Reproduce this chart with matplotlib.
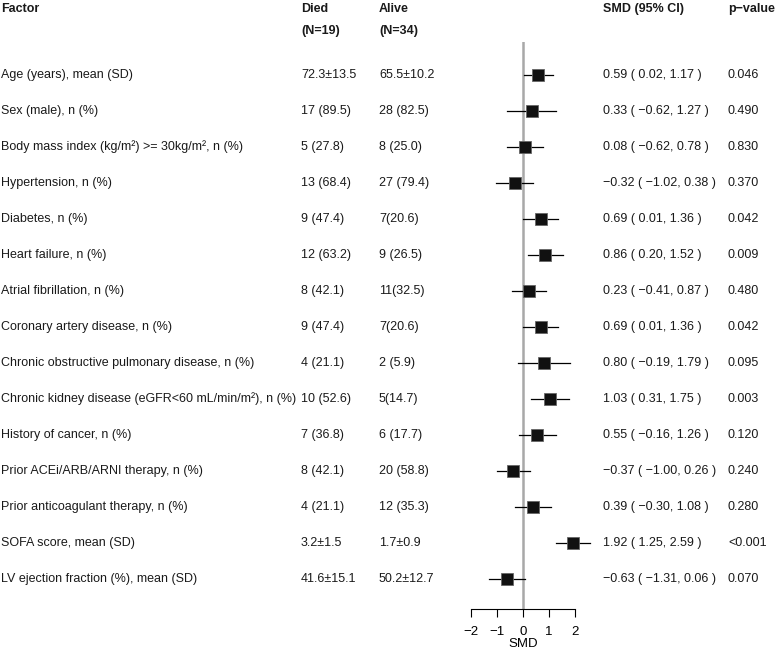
import matplotlib.pyplot as plt
from matplotlib.transforms import blended_transform_factory

plt.rcParams['font.family'] = ['Liberation Sans', 'DejaVu Sans']

factors = [
    "Age (years), mean (SD)",
    "Sex (male), n (%)",
    "Body mass index (kg/m²) >= 30kg/m², n (%)",
    "Hypertension, n (%)",
    "Diabetes, n (%)",
    "Heart failure, n (%)",
    "Atrial fibrillation, n (%)",
    "Coronary artery disease, n (%)",
    "Chronic obstructive pulmonary disease, n (%)",
    "Chronic kidney disease (eGFR<60 mL/min/m²), n (%)",
    "History of cancer, n (%)",
    "Prior ACEi/ARB/ARNI therapy, n (%)",
    "Prior anticoagulant therapy, n (%)",
    "SOFA score, mean (SD)",
    "LV ejection fraction (%), mean (SD)",
]
died = ["72.3±13.5", "17 (89.5)", "5 (27.8)", "13 (68.4)", "9 (47.4)",
        "12 (63.2)", "8 (42.1)", "9 (47.4)", "4 (21.1)", "10 (52.6)",
        "7 (36.8)", "8 (42.1)", "4 (21.1)", "3.2±1.5", "41.6±15.1"]
alive = ["65.5±10.2", "28 (82.5)", "8 (25.0)", "27 (79.4)", "7(20.6)",
         "9 (26.5)", "11(32.5)", "7(20.6)", "2 (5.9)", "5(14.7)",
         "6 (17.7)", "20 (58.8)", "12 (35.3)", "1.7±0.9", "50.2±12.7"]
smd = [0.59, 0.33, 0.08, -0.32, 0.69, 0.86, 0.23, 0.69, 0.80, 1.03,
       0.55, -0.37, 0.39, 1.92, -0.63]
lower = [0.02, -0.62, -0.62, -1.02, 0.01, 0.20, -0.41, 0.01, -0.19, 0.31,
         -0.16, -1.00, -0.30, 1.25, -1.31]
upper = [1.17, 1.27, 0.78, 0.38, 1.36, 1.52, 0.87, 1.36, 1.79, 1.75,
         1.26, 0.26, 1.08, 2.59, 0.06]
pvals = ["0.046", "0.490", "0.830", "0.370", "0.042", "0.009", "0.480",
         "0.042", "0.095", "0.003", "0.120", "0.240", "0.280", "<0.001", "0.070"]
ticks = [-2, -1, 0, 1, 2]

W, H = 779, 652
fig = plt.figure(figsize=(W / 100, H / 100), dpi=100)

# forest axes: x in SMD units, y = row index (0 at top)
x_left, x_right = 471, 575
y_top, y_bot = 42, 609
ax = fig.add_axes([x_left / W, 1 - y_bot / H, (x_right - x_left) / W, (y_bot - y_top) / H])
row0, step = 75, 36
ax.set_xlim(-2, 2)
ax.set_ylim((y_bot - row0) / step, (y_top - row0) / step)
for s in ["top", "right", "left"]:
    ax.spines[s].set_visible(False)
ax.spines["bottom"].set_linewidth(0.8)
ax.set_yticks([])
ax.set_xticks(ticks)
ax.set_xticklabels([str(t).replace("-", "−") for t in ticks], fontsize=9.5)
ax.tick_params(axis="x", length=6, width=0.8, pad=6)
ax.set_xlabel("SMD", fontsize=9.5, labelpad=0)
ax.patch.set_visible(False)

ax.axvline(0, color="#a8a8a8", lw=1.8, zorder=1)

rows = list(range(len(factors)))
for r in rows:
    ax.plot([lower[r], upper[r]], [r, r], color="black", lw=0.9, clip_on=False, zorder=2)
ax.plot(smd, rows, ls="none", marker="s", ms=9, mfc="#111111", mec="#666666",
        mew=0.6, clip_on=False, zorder=3)

# text columns (figure x, data y)
tr = blended_transform_factory(fig.transFigure, ax.transData)
fs = 9.0
col_factor, col_died, col_alive, col_smd, col_p = 1, 301, 379, 603, 728

def fmt(v):
    return f"{v:.2f}".replace("-", "−")

for r in rows:
    kw = dict(transform=tr, va="center", ha="left", fontsize=fs, color="#1a1a1a")
    ax.text(col_factor / W, r, factors[r], **kw)
    ax.text(col_died / W, r, died[r], **kw)
    ax.text(col_alive / W, r, alive[r], **kw)
    ax.text(col_smd / W, r, f"{fmt(smd[r])} ( {fmt(lower[r])}, {fmt(upper[r])} )", **kw)
    ax.text(col_p / W, r, pvals[r], **kw)

hkw = dict(va="center", ha="left", fontsize=fs, fontweight="bold", color="#1a1a1a")
fig.text(col_factor / W, 1 - 9 / H, "Factor", **hkw)
fig.text(col_died / W, 1 - 9 / H, "Died", **hkw)
fig.text(col_alive / W, 1 - 9 / H, "Alive", **hkw)
fig.text(col_died / W, 1 - 31 / H, "(N=19)", **hkw)
fig.text(col_alive / W, 1 - 31 / H, "(N=34)", **hkw)
fig.text(col_smd / W, 1 - 9 / H, "SMD (95% CI)", **hkw)
fig.text(col_p / W, 1 - 9 / H, "p−value", **hkw)

fig.savefig("out.png", dpi=100)
